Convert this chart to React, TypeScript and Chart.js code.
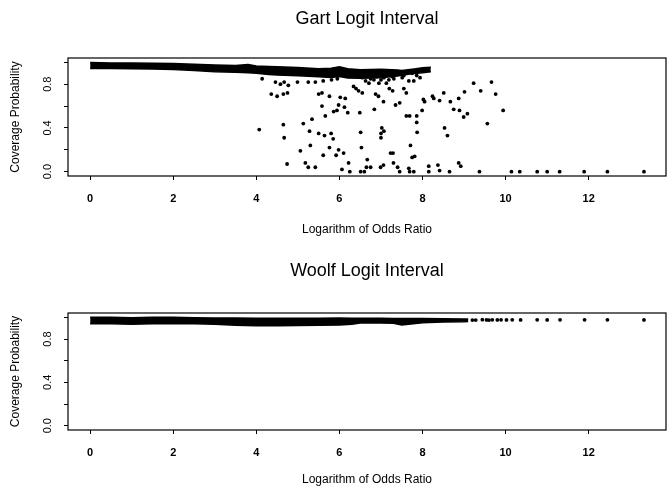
import React, { useEffect, useRef } from 'react';
import { Chart, registerables } from 'chart.js';

Chart.register(...registerables);

const FONT = "'Liberation Sans', Arial, Helvetica, sans-serif";

// Axis definitions
const xRange = [-0.533, 13.86];
const yRange = [-0.04, 1.04];
const xTickValues = [0, 2, 4, 6, 8, 10, 12];
const yTickValues = [0, 0.2, 0.4, 0.6, 0.8, 1.0];
const yTickLabelValues = [0, 0.4, 0.8];
const xAxisTitle = 'Logarithm of Odds Ratio';
const yAxisTitle = 'Coverage Probability';

// ---- Gart logit interval ----
// dense band of points near the top (upper / lower envelope)
const gartBandX = [0, 0.5, 1.0, 1.5, 2.0, 2.5, 3.0, 3.5, 3.8, 4.0, 4.3, 4.5, 5.0, 5.5, 5.8, 6.0, 6.2, 6.5, 7.0, 7.4, 7.5, 7.8, 8.0, 8.2];
const gartBandUpper = [0.998, 0.995, 0.995, 0.993, 0.99, 0.982, 0.977, 0.972, 0.98, 0.967, 0.962, 0.96, 0.952, 0.942, 0.947, 0.96, 0.942, 0.932, 0.937, 0.93, 0.925, 0.94, 0.95, 0.955];
const gartBandLower = [0.945, 0.945, 0.942, 0.94, 0.935, 0.925, 0.915, 0.91, 0.905, 0.9, 0.89, 0.885, 0.878, 0.868, 0.862, 0.87, 0.858, 0.855, 0.86, 0.875, 0.885, 0.897, 0.905, 0.915];
// scattered points [log odds ratio, coverage]
const gartPoints: [number, number][] = [
  [4.14, 0.85], [4.46, 0.82], [4.58, 0.80], [4.67, 0.82], [4.77, 0.79], [4.99, 0.82], [5.25, 0.82], [5.42, 0.82], [5.61, 0.83], [5.81, 0.84], [5.95, 0.85],
  [4.36, 0.71], [4.50, 0.69], [4.65, 0.71], [4.75, 0.72],
  [4.07, 0.385], [4.65, 0.43], [4.67, 0.31], [4.74, 0.07],
  [5.06, 0.19], [5.13, 0.44], [5.18, 0.08], [5.25, 0.04], [5.28, 0.37], [5.30, 0.24], [5.34, 0.48], [5.42, 0.04],
  [5.50, 0.35], [5.50, 0.71], [5.58, 0.72], [5.58, 0.60], [5.61, 0.15], [5.64, 0.33], [5.66, 0.51],
  [5.76, 0.69], [5.76, 0.22], [5.80, 0.35], [5.85, 0.30], [5.86, 0.55], [5.92, 0.15], [5.94, 0.56], [5.98, 0.61], [5.98, 0.20],
  [6.02, 0.68], [6.06, 0.02], [6.10, 0.17], [6.12, 0.59], [6.14, 0.67], [6.20, 0.54], [6.22, 0.08], [6.25, 0.0],
  [6.34, 0.78], [6.40, 0.76], [6.46, 0.74], [6.55, 0.72], [6.49, 0.54], [6.51, 0.36], [6.53, 0.22], [6.51, 0.0], [6.60, 0.0], [6.67, 0.11], [6.65, 0.04],
  [6.75, 0.04], [6.84, 0.57], [6.87, 0.71], [6.94, 0.69], [7.06, 0.64], [6.99, 0.04], [7.06, 0.06],
  [7.02, 0.40], [7.00, 0.35], [7.00, 0.31], [7.07, 0.37],
  [7.20, 0.76], [7.28, 0.74], [7.23, 0.17], [7.29, 0.17], [7.30, 0.08], [7.35, 0.61], [7.45, 0.63], [7.40, 0.04], [7.45, 0.0],
  [7.55, 0.76], [7.61, 0.72], [7.61, 0.51], [7.69, 0.51], [7.86, 0.51], [7.71, 0.24], [7.86, 0.45], [7.75, 0.13], [7.81, 0.14], [7.67, 0.03], [7.69, 0.0], [7.87, 0.36], [7.79, 0.0],
  [8.02, 0.66], [7.99, 0.56], [8.05, 0.64], [8.15, 0.05], [8.15, 0.0],
  [8.24, 0.69], [8.27, 0.67], [8.41, 0.65], [8.51, 0.72], [8.37, 0.06], [8.41, 0.01], [8.53, 0.40], [8.60, 0.33], [8.65, 0.0], [8.67, 0.64],
  [8.75, 0.57], [8.89, 0.56], [8.99, 0.50], [9.08, 0.53], [8.87, 0.67], [9.01, 0.73], [8.87, 0.08], [8.92, 0.05], [9.23, 0.81],
  [9.37, 0.0], [9.40, 0.74], [9.56, 0.44], [9.66, 0.82], [9.76, 0.71], [9.94, 0.56],
  [10.14, 0.0], [10.34, 0.0], [10.76, 0.0], [11.0, 0.0], [11.3, 0.0], [11.89, 0.0], [12.45, 0.0], [13.33, 0.0],
  [6.55, 0.86], [6.63, 0.83], [6.71, 0.81], [6.75, 0.85], [6.83, 0.84], [6.89, 0.87], [6.95, 0.81], [7.00, 0.84], [7.07, 0.86], [7.13, 0.81],
  [7.19, 0.84], [7.27, 0.87], [7.31, 0.85], [7.47, 0.89], [7.51, 0.86], [7.55, 0.88], [7.63, 0.90], [7.67, 0.83], [7.75, 0.90], [7.79, 0.83],
  [7.86, 0.88], [7.94, 0.86],
];

// ---- Woolf logit interval ----
const woolfBandX = [0, 0.5, 1.0, 1.5, 2.0, 2.5, 3.0, 3.5, 4.0, 4.5, 5.0, 5.5, 6.0, 6.3, 6.5, 7.0, 7.3, 7.5, 8.0, 8.5, 9.0, 9.1];
const woolfBandUpper = [1.0, 1.0, 0.997, 1.0, 1.0, 0.997, 0.995, 0.993, 0.992, 0.992, 0.992, 0.992, 0.994, 0.992, 0.992, 0.992, 0.99, 0.99, 0.99, 0.988, 0.985, 0.985];
const woolfBandLower = [0.94, 0.94, 0.937, 0.94, 0.943, 0.94, 0.937, 0.927, 0.922, 0.922, 0.925, 0.927, 0.93, 0.937, 0.948, 0.948, 0.945, 0.93, 0.95, 0.957, 0.96, 0.962];
const woolfPoints: [number, number][] = [
  [9.2, 0.975], [9.28, 0.975], [9.44, 0.978], [9.54, 0.976], [9.60, 0.975], [9.68, 0.977], [9.80, 0.976], [9.89, 0.977],
  [10.02, 0.976], [10.16, 0.977], [10.36, 0.976], [10.76, 0.977], [11.0, 0.976], [11.31, 0.977], [11.9, 0.977], [12.45, 0.977], [13.33, 0.976],
];

const framePlugin = {
  id: 'frame',
  afterDraw(chart: any) {
    const { ctx, chartArea: a } = chart;
    ctx.save();
    ctx.strokeStyle = '#000';
    ctx.lineWidth = 1.2;
    ctx.strokeRect(a.left, a.top, a.right - a.left, a.bottom - a.top);
    ctx.restore();
  },
};

type Spec = {
  title: string;
  height: number;
  titleCenter: number;
  boxTop: number;
  boxBottom: number;
  xLabelPad: number;
  xTitleCenter: number;
  bandX: number[];
  bandUpper: number[];
  bandLower: number[];
  points: [number, number][];
};

function makeConfig(s: Spec): any {
  const titleLH = 18 * 1.2;
  const padTop = s.titleCenter - titleLH / 2;
  const padBottom = s.boxTop - padTop - titleLH;
  const axisTitleLH = 12 * 1.2;
  return {
    type: 'scatter',
    data: {
      datasets: [
        {
          data: s.bandX.map((x, i) => ({ x, y: s.bandUpper[i] })),
          showLine: true,
          borderColor: '#000',
          borderWidth: 1.5,
          pointRadius: 0,
          fill: false,
          tension: 0,
        },
        {
          data: s.bandX.map((x, i) => ({ x, y: s.bandLower[i] })),
          showLine: true,
          borderColor: '#000',
          borderWidth: 1.5,
          pointRadius: 0,
          fill: '-1',
          backgroundColor: '#000',
          tension: 0,
        },
        {
          data: s.points.map(([x, y]) => ({ x, y })),
          showLine: false,
          pointRadius: 1.9,
          pointBackgroundColor: '#000',
          pointBorderWidth: 0,
        },
      ],
    },
    options: {
      animation: false,
      responsive: false,
      devicePixelRatio: 1,
      layout: { padding: { left: 0, right: 2, top: 0, bottom: 0 } },
      plugins: {
        legend: { display: false },
        tooltip: { enabled: false },
        title: {
          display: true,
          text: s.title,
          fullSize: false,
          color: '#000',
          font: { family: FONT, size: 18, weight: 'normal', lineHeight: 1.2 },
          padding: { top: padTop, bottom: padBottom },
        },
      },
      scales: {
        x: {
          type: 'linear',
          position: 'bottom',
          min: xRange[0],
          max: xRange[1],
          afterBuildTicks: (sc: any) => {
            sc.ticks = xTickValues.map((v) => ({ value: v }));
          },
          afterFit: (sc: any) => {
            sc.height = s.height - s.boxBottom;
          },
          ticks: {
            autoSkip: false,
            maxRotation: 0,
            minRotation: 0,
            padding: s.xLabelPad,
            color: '#000',
            font: { family: FONT, size: 11, weight: 'bold' },
            callback: (v: any) => String(v),
          },
          grid: { display: true, drawOnChartArea: false, drawTicks: true, tickLength: 4, color: '#000', lineWidth: 1 },
          border: { display: false },
          title: {
            display: true,
            text: xAxisTitle,
            color: '#000',
            font: { family: FONT, size: 12, lineHeight: 1.2 },
            padding: { top: 0, bottom: s.height - s.xTitleCenter - axisTitleLH / 2 },
          },
        },
        y: {
          type: 'linear',
          position: 'left',
          min: yRange[0],
          max: yRange[1],
          afterBuildTicks: (sc: any) => {
            sc.ticks = yTickValues.map((v) => ({ value: v }));
          },
          afterFit: (sc: any) => {
            sc.width = 68;
          },
          ticks: {
            autoSkip: false,
            minRotation: 90,
            maxRotation: 90,
            crossAlign: 'center',
            padding: 8.3,
            color: '#000',
            font: { family: FONT, size: 11 },
            callback: (v: any) =>
              yTickLabelValues.some((t) => Math.abs(t - Number(v)) < 1e-9) ? Number(v).toFixed(1) : '',
          },
          grid: { display: true, drawOnChartArea: false, drawTicks: true, tickLength: 4, color: '#000', lineWidth: 1 },
          border: { display: false },
          title: {
            display: true,
            text: yAxisTitle,
            color: '#000',
            font: { family: FONT, size: 12, lineHeight: 1.2 },
            padding: { top: 16 - axisTitleLH / 2, bottom: 0 },
          },
        },
      },
    },
    plugins: [framePlugin],
  };
}

function Panel({ spec, top }: { spec: Spec; top: number }) {
  const ref = useRef<HTMLCanvasElement | null>(null);
  useEffect(() => {
    if (!ref.current) return;
    const chart = new Chart(ref.current, makeConfig(spec));
    return () => chart.destroy();
  }, [spec]);
  return (
    <canvas
      ref={ref}
      width={670}
      height={spec.height}
      style={{ position: 'absolute', left: 0, top, width: 670, height: spec.height, display: 'block' }}
    />
  );
}

const gartSpec: Spec = {
  title: 'Gart Logit Interval',
  height: 245,
  titleCenter: 19,
  boxTop: 58,
  boxBottom: 176,
  xLabelPad: 12,
  xTitleCenter: 230,
  bandX: gartBandX,
  bandUpper: gartBandUpper,
  bandLower: gartBandLower,
  points: gartPoints,
};

const woolfSpec: Spec = {
  title: 'Woolf Logit Interval',
  height: 236,
  titleCenter: 17.5,
  boxTop: 59,
  boxBottom: 176,
  xLabelPad: 12.5,
  xTitleCenter: 226,
  bandX: woolfBandX,
  bandUpper: woolfBandUpper,
  bandLower: woolfBandLower,
  points: woolfPoints,
};

export default function App() {
  return (
    <div style={{ position: 'absolute', left: 0, top: 0, width: 670, height: 490, overflow: 'hidden', background: '#fff' }}>
      <Panel spec={gartSpec} top={0} />
      <Panel spec={woolfSpec} top={254} />
    </div>
  );
}
